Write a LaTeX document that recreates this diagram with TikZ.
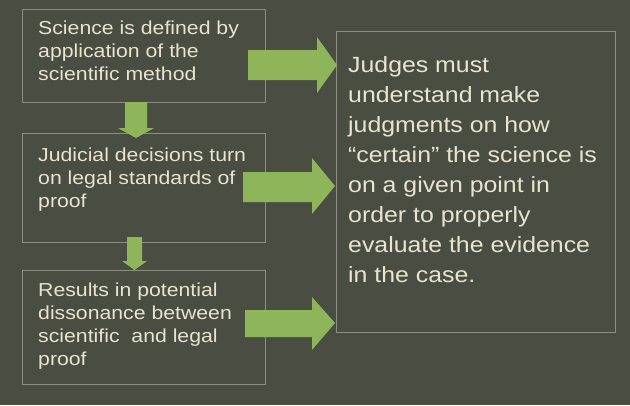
\documentclass[tikz,border=0pt]{standalone}
\usepackage{fontspec}
\setmainfont{Liberation Sans}[FakeStretch=1.13]
\definecolor{bg}{RGB}{73,77,66}
\definecolor{arrgreen}{RGB}{143,181,90}
\definecolor{boxline}{RGB}{140,143,130}
\definecolor{txt}{RGB}{232,228,208}
\tikzset{
  panel/.style={draw=boxline, line width=0.9pt, anchor=north west, inner sep=0pt},
  lefttext/.style={anchor=north west, inner sep=0pt, align=left, text=txt, font=\fontsize{18.8}{23}\selectfont},
  righttext/.style={anchor=north west, inner sep=0pt, align=left, text=txt, font=\fontsize{22}{30}\selectfont},
  blockarrow/.style={fill=arrgreen}
}
\begin{document}
\begin{tikzpicture}[x=1pt,y=-1pt]
\fill[bg] (0,0) rectangle (630,405);
\useasboundingbox (0,0) rectangle (630,405);

\node[panel, minimum width=243pt, minimum height=93pt] (b1) at (22,9) {};
\node[panel, minimum width=243pt, minimum height=109pt] (b2) at (22,133) {};
\node[panel, minimum width=243pt, minimum height=114pt] (b3) at (22,270) {};
\node[panel, minimum width=279pt, minimum height=301pt] (r) at (336,31) {};

\node[lefttext] (t1) at (38,21) {Science is defined by\\application of the\\scientific method};
\node[lefttext] (t2) at (38,148) {Judicial decisions turn\\on legal standards of\\proof};
\node[lefttext] (t3) at (38,283) {Results in potential\\dissonance between\\scientific\ \ and legal\\proof};
\node[righttext] (t4) at (348,56) {Judges must\\understand make\\judgments on how\\\char"201C certain\char"201D\ the science is\\on a given point in\\order to properly\\evaluate the evidence\\in the case.};

% right block arrows
\fill[blockarrow] (248,50) -- (317,50) -- (317,37) -- (337,65) -- (317,93) -- (317,80) -- (248,80) -- cycle;
\fill[blockarrow] (243,172) -- (312,172) -- (312,158) -- (335,186) -- (312,214) -- (312,202) -- (243,202) -- cycle;
\fill[blockarrow] (245,310) -- (312,310) -- (312,297) -- (335,323) -- (312,350) -- (312,337) -- (245,337) -- cycle;

% down block arrows
\fill[blockarrow] (125,102) -- (125,128) -- (118,128) -- (136,138) -- (154,128) -- (147,128) -- (147,102) -- cycle;
\fill[blockarrow] (127,237) -- (127,261) -- (122,261) -- (134.5,270) -- (147,261) -- (142,261) -- (142,237) -- cycle;
\end{tikzpicture}
\end{document}
